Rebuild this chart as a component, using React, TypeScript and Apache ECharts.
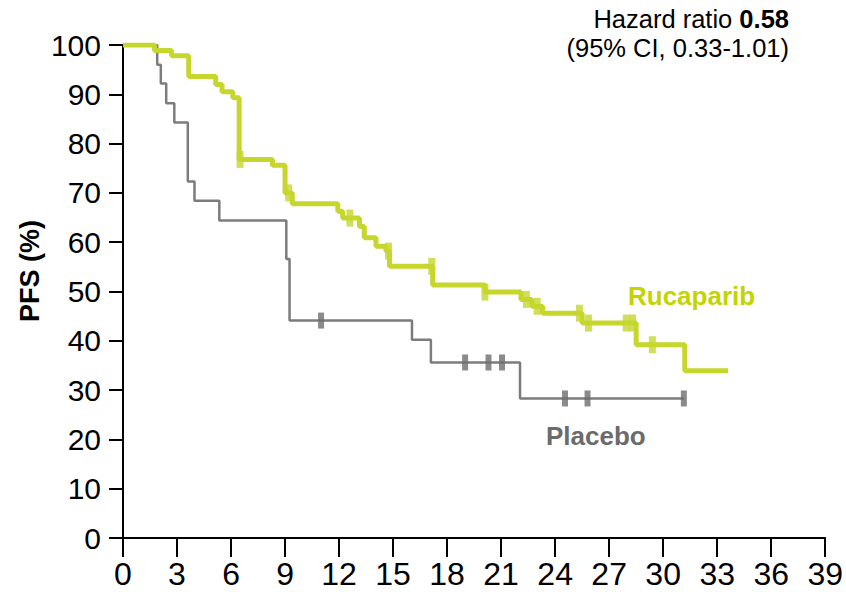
import React, { useEffect, useRef } from "react";
import * as echarts from "echarts";

// Kaplan–Meier progression-free survival, months on x, PFS % on y
const rucaparibMonths = [0, 1.75, 2.7, 3.65, 5.15, 5.5, 6.1, 6.45, 8.3, 9.0, 9.4, 11.93, 12.2, 13.13, 13.4, 14.05, 14.6, 14.8, 17.2, 20.1, 22.1, 22.7, 23.3, 25.5, 28.5, 31.2, 33.6];
const rucaparibPFS = [100, 98.9, 97.8, 93.6, 92.0, 90.5, 89.3, 76.8, 75.6, 70.0, 67.8, 66.3, 64.9, 63.2, 60.9, 59.2, 58.2, 55.1, 51.3, 49.9, 48.4, 47.0, 45.6, 43.6, 39.2, 33.9, 33.9];
const rucaparibCensored = [6.5, 9.2, 12.6, 14.75, 17.15, 20.1, 22.4, 23.0, 25.35, 25.85, 27.95, 28.3, 29.4];

const placeboMonths = [0, 1.9, 2.1, 2.4, 2.85, 3.6, 3.97, 5.35, 9.07, 9.25, 16.05, 17.1, 22.05, 31.15];
const placeboPFS = [100, 96, 92.2, 88.2, 84.3, 72.3, 68.4, 64.4, 56.6, 44.1, 40.2, 35.6, 28.3, 28.3];
const placeboCensored = [11.0, 19.0, 20.3, 21.05, 24.55, 25.8, 31.15];

const xMin = 0;
const xMax = 39;
const xStep = 3;
const yMin = 0;
const yMax = 100;
const yStep = 10;

const hazardRatio = "0.58";
const ciText = "(95% CI, 0.33-1.01)";

const GREEN = "#c6d62d";
const GREEN_TEXT = "#c3d400";
const GRAY = "#7c7c7c";
const FONT = "'Liberation Sans', Arial, Helvetica, sans-serif";

function pairs(xs: number[], ys: number[]) {
  return xs.map((x, i) => [x, ys[i]]);
}

// survival level of a step curve at time t
function survivalAt(xs: number[], ys: number[], t: number) {
  let v = ys[0];
  for (let i = 0; i < xs.length; i++) {
    if (xs[i] <= t) v = ys[i];
  }
  return v;
}

function censorPoints(xs: number[], ys: number[], cs: number[]) {
  return cs.map((t) => [t, survivalAt(xs, ys, t)]);
}

export default function App() {
  const ref = useRef<HTMLDivElement>(null);

  useEffect(() => {
    if (!ref.current) return;
    const chart = echarts.init(ref.current, null, { renderer: "svg" });
    chart.setOption({
      animation: false,
      backgroundColor: "#ffffff",
      grid: { left: 123, right: 19, top: 45, bottom: 54, containLabel: false },
      xAxis: {
        type: "value",
        min: xMin,
        max: xMax,
        interval: xStep,
        splitLine: { show: false },
        axisLine: { lineStyle: { color: "#000", width: 2 } },
        axisTick: { length: 19, lineStyle: { color: "#000", width: 2 } },
        axisLabel: { color: "#000", fontSize: 32, fontFamily: FONT, margin: 20 },
      },
      yAxis: {
        type: "value",
        min: yMin,
        max: yMax,
        interval: yStep,
        splitLine: { show: false },
        axisLine: { show: true, lineStyle: { color: "#000", width: 2 } },
        axisTick: { show: true, length: 14, lineStyle: { color: "#000", width: 2 } },
        axisLabel: { color: "#000", fontSize: 30, fontFamily: FONT, margin: 22 },
      },
      series: [
        {
          name: "Placebo",
          type: "line",
          step: "end",
          data: pairs(placeboMonths, placeboPFS),
          showSymbol: false,
          lineStyle: { color: GRAY, width: 2.5 },
          z: 2,
        },
        {
          name: "Placebo censored",
          type: "scatter",
          data: censorPoints(placeboMonths, placeboPFS, placeboCensored),
          symbol: "rect",
          symbolSize: [6, 16],
          itemStyle: { color: "#6e6e6e" },
          z: 3,
        },
        {
          name: "Rucaparib",
          type: "line",
          step: "end",
          data: pairs(rucaparibMonths, rucaparibPFS),
          showSymbol: false,
          lineStyle: { color: GREEN, width: 5 },
          z: 4,
        },
        {
          name: "Rucaparib censored",
          type: "scatter",
          data: censorPoints(rucaparibMonths, rucaparibPFS, rucaparibCensored),
          symbol: "rect",
          symbolSize: [7, 17],
          itemStyle: { color: GREEN },
          z: 5,
        },
      ],
      graphic: [
        {
          type: "text",
          x: 30,
          y: 271,
          rotation: Math.PI / 2,
          style: {
            text: "PFS (%)",
            fontSize: 27,
            fontWeight: "bold",
            fontFamily: FONT,
            fill: "#000",
            align: "center",
            verticalAlign: "middle",
          },
        },
        {
          type: "text",
          x: 789,
          y: 19,
          style: {
            text: "Hazard ratio {b|" + hazardRatio + "}",
            fontSize: 25.5,
            fontFamily: FONT,
            fill: "#000",
            align: "right",
            verticalAlign: "middle",
            rich: { b: { fontSize: 25.5, fontWeight: "bold", fontFamily: FONT, fill: "#000" } },
          },
        },
        {
          type: "text",
          x: 789,
          y: 48,
          style: {
            text: ciText,
            fontSize: 25.5,
            fontFamily: FONT,
            fill: "#000",
            align: "right",
            verticalAlign: "middle",
          },
        },
        {
          type: "text",
          x: 628,
          y: 296,
          style: {
            text: "Rucaparib",
            fontSize: 26,
            fontWeight: "bold",
            fontFamily: FONT,
            fill: GREEN_TEXT,
            verticalAlign: "middle",
          },
        },
        {
          type: "text",
          x: 546,
          y: 436,
          style: {
            text: "Placebo",
            fontSize: 26,
            fontWeight: "bold",
            fontFamily: FONT,
            fill: "#6b6b6b",
            verticalAlign: "middle",
          },
        },
      ],
    });
    return () => chart.dispose();
  }, []);

  return (
    <div
      ref={ref}
      style={{ position: "absolute", left: 0, top: 0, width: 846, height: 592 }}
    />
  );
}
